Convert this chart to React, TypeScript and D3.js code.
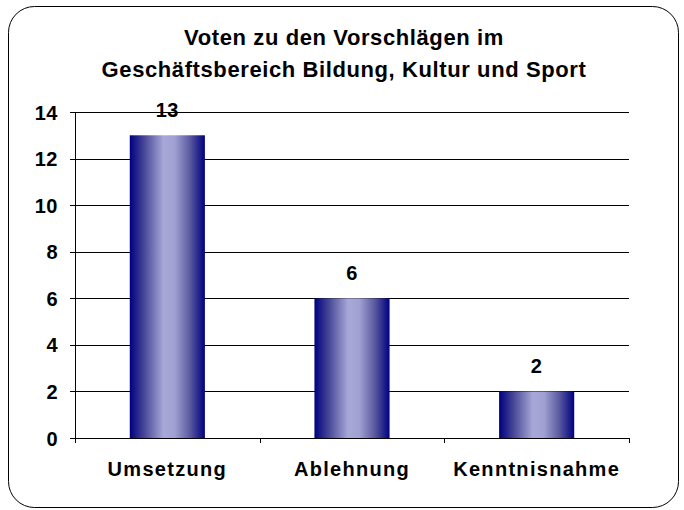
import React from "react";
import * as d3 from "d3";

const categories = ["Umsetzung", "Ablehnung", "Kenntnisnahme"];
const values = [13, 6, 2];
const yTicks = [0, 2, 4, 6, 8, 10, 12, 14];
const titleLines = ["Voten zu den Vorschlägen im", "Geschäftsbereich Bildung, Kultur und Sport"];

export default function App() {
  const W = 684, H = 510;
  const left = 75, right = 629, top = 112, bottom = 438;
  const x = d3.scaleBand<string>().domain(categories).range([left, right]).paddingInner(0.5932).paddingOuter(0.2966);
  const y = d3.scaleLinear().domain([0, 14]).range([bottom, top]);
  const band = (right - left) / categories.length;
  const font = "'Liberation Sans', Arial, sans-serif";
  return (
    <svg width={W} height={H} style={{ position: "absolute", left: 0, top: 0 }}>
      <defs>
        <linearGradient id="barGrad" x1="0" x2="1" y1="0" y2="0">
          <stop offset="0" stopColor="#000080" />
          <stop offset="0.2" stopColor="#4a4a98" />
          <stop offset="0.45" stopColor="#a8a8d8" />
          <stop offset="0.6" stopColor="#a0a0d2" />
          <stop offset="0.8" stopColor="#5a5aa0" />
          <stop offset="1" stopColor="#000080" />
        </linearGradient>
      </defs>
      <rect x={0} y={0} width={W} height={H} fill="#fff" />
      <rect x={8.5} y={6.5} width={670} height={501} rx={26} ry={26} fill="#fff" stroke="#000" strokeWidth={1} />
      {titleLines.map((t, i) => (
        <text key={i} x={344} y={45 + i * 32} textAnchor="middle" fontFamily={font} fontWeight="bold" fontSize={22} letterSpacing={0.6} fill="#000">{t}</text>
      ))}
      {yTicks.map((t) => (
        <g key={t}>
          <line x1={left - 5} x2={right} y1={Math.round(y(t)) + 0.5} y2={Math.round(y(t)) + 0.5} stroke="#000" strokeWidth={1} />
          <text x={58} y={y(t) + 7.5} textAnchor="end" fontFamily={font} fontWeight="bold" fontSize={20} letterSpacing={0.5}>{t}</text>
        </g>
      ))}
      <line x1={left + 0.5} x2={left + 0.5} y1={top} y2={bottom} stroke="#000" />
      {d3.range(categories.length + 1).map((i) => (
        <line key={i} x1={Math.round(left + i * band) + 0.5} x2={Math.round(left + i * band) + 0.5} y1={bottom} y2={bottom + 5} stroke="#000" />
      ))}
      {categories.map((c, i) => (
        <g key={c}>
          <rect x={x(c)!} y={y(values[i])} width={x.bandwidth()} height={bottom - y(values[i])} fill="url(#barGrad)" />
          <text x={x(c)! + x.bandwidth() / 2} y={y(values[i]) - 18} textAnchor="middle" fontFamily={font} fontWeight="bold" fontSize={20} letterSpacing={0.5}>{values[i]}</text>
          <text x={x(c)! + x.bandwidth() / 2} y={476} textAnchor="middle" fontFamily={font} fontWeight="bold" fontSize={20} letterSpacing={1.3}>{c}</text>
        </g>
      ))}
    </svg>
  );
}
